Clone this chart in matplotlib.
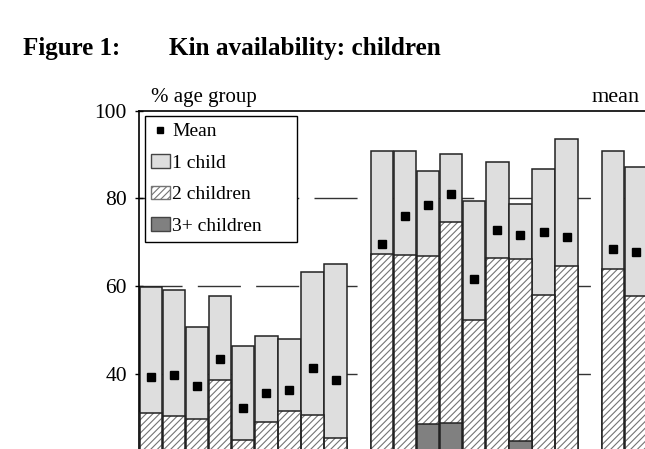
import numpy as np
import matplotlib
matplotlib.use('Agg')
import matplotlib.pyplot as plt
from matplotlib.patches import Patch, Rectangle
from matplotlib.lines import Line2D

# bar slots: three groups with one empty slot between them
slots = [0, 1, 2, 3, 4, 5, 6, 7, 8,
         10, 11, 12, 13, 14, 15, 16, 17, 18,
         20, 21]

# cumulative shares (% of age group with at least n children)
one_plus = [59.9, 59.0, 50.7, 57.8, 46.4, 48.6, 47.9, 63.2, 65.0,
            90.7, 90.9, 86.3, 90.1, 79.3, 88.2, 78.7, 86.6, 93.6,
            90.9, 87.2]
two_plus = [31.0, 30.3, 29.6, 38.5, 24.9, 28.9, 31.6, 30.5, 25.4,
            67.3, 67.0, 66.9, 74.6, 52.2, 66.4, 66.1, 58.0, 64.5,
            63.9, 57.8]
three_plus = [8.0, 7.0, 6.0, 12.0, 5.0, 7.0, 8.0, 7.0, 5.0,
              20.0, 21.0, 28.6, 28.7, 14.0, 19.0, 24.7, 16.0, 18.0,
              18.0, 15.0]
means = [39.2, 39.7, 37.3, 43.3, 32.1, 35.6, 36.4, 41.3, 38.5,
         69.6, 76.1, 78.4, 80.9, 61.6, 72.8, 71.7, 72.4, 71.3,
         68.5, 67.7]

yticks = [40, 60, 80, 100]
labels = ['Mean', '1 child', '2 children', '3+ children']

plt.rcParams['font.family'] = ['Liberation Serif', 'DejaVu Serif']
plt.rcParams['hatch.linewidth'] = 0.8

W, H = 645, 449
fig = plt.figure(figsize=(W / 100, H / 100), dpi=100)

# axes runs past the right and bottom edges (the chart is cropped there)
left_px, top_px = 139.3, 110.7
px_per_unit = 4.385
slot_px = 23.1
ax_h = 100 * px_per_unit
ax_w = 23 * slot_px
ax = fig.add_axes([left_px / W, (H - top_px - ax_h) / H, ax_w / W, ax_h / H])

edge = '#222222'
hatch_col = '#747474'
bw = 0.97
ax.bar(slots, one_plus, width=bw, color='#dedede', edgecolor=edge, linewidth=1.1, zorder=2)
ax.bar(slots, two_plus, width=bw, color='white', edgecolor=hatch_col, linewidth=0,
       hatch='/////', zorder=3)
ax.bar(slots, two_plus, width=bw, fill=False, edgecolor=edge, linewidth=1.1, zorder=4)
ax.bar(slots, three_plus, width=bw, color='#808080', edgecolor=edge, linewidth=1.1, zorder=5)
ax.plot(slots, means, linestyle='none', marker='s', markersize=5.5, color='black', zorder=6)

ax.set_xlim(-0.5, 22.5)
ax.set_ylim(0, 100)
ax.set_yticks(yticks)
ax.set_yticklabels([str(t) for t in yticks], fontsize=15.5)
ax.set_xticks([])
ax.tick_params(axis='y', direction='inout', length=6, width=1, pad=6, color='black')
for g in [40, 60, 80]:
    ax.axhline(g, color='#333333', linewidth=1.0, dashes=(31, 11), zorder=1)
for s in ['right', 'bottom']:
    ax.spines[s].set_visible(False)
ax.spines['left'].set_linewidth(1.2)
ax.spines['top'].set_linewidth(1.2)

# legend box drawn by hand (it is wider than its text)
fig.add_artist(Rectangle((145 / W, (H - 242) / H), 152 / W, 126 / H,
                         transform=fig.transFigure, facecolor='white',
                         edgecolor='black', linewidth=1.0, zorder=9))
handles = [
    Line2D([], [], linestyle='none', marker='s', markersize=4.5, color='black'),
    Patch(facecolor='#dedede', edgecolor='#444444', linewidth=1.0),
    Patch(facecolor='white', edgecolor=hatch_col, hatch='/////', linewidth=1.0),
    Patch(facecolor='#808080', edgecolor='#444444', linewidth=1.0),
]
leg = fig.legend(handles, labels, loc='upper left',
                 bbox_to_anchor=(150.5 / W, (H - 123) / H), bbox_transform=fig.transFigure,
                 borderaxespad=0, borderpad=0, fontsize=14, frameon=False,
                 handlelength=1.0, handleheight=0.67, handletextpad=0.12,
                 labelspacing=0.72)
leg.set_zorder(10)

fig.text(23 / W, (H - 55) / H, 'Figure 1:', fontsize=18, fontweight='bold', va='baseline')
fig.text(169 / W, (H - 55) / H, 'Kin availability: children', fontsize=18.2,
         fontweight='bold', va='baseline')
fig.text(151 / W, (H - 102) / H, '% age group', fontsize=15, va='baseline')
fig.text(640 / W, (H - 102) / H, 'mean', fontsize=16, va='baseline', ha='right')

fig.savefig('out.png', dpi=100)
